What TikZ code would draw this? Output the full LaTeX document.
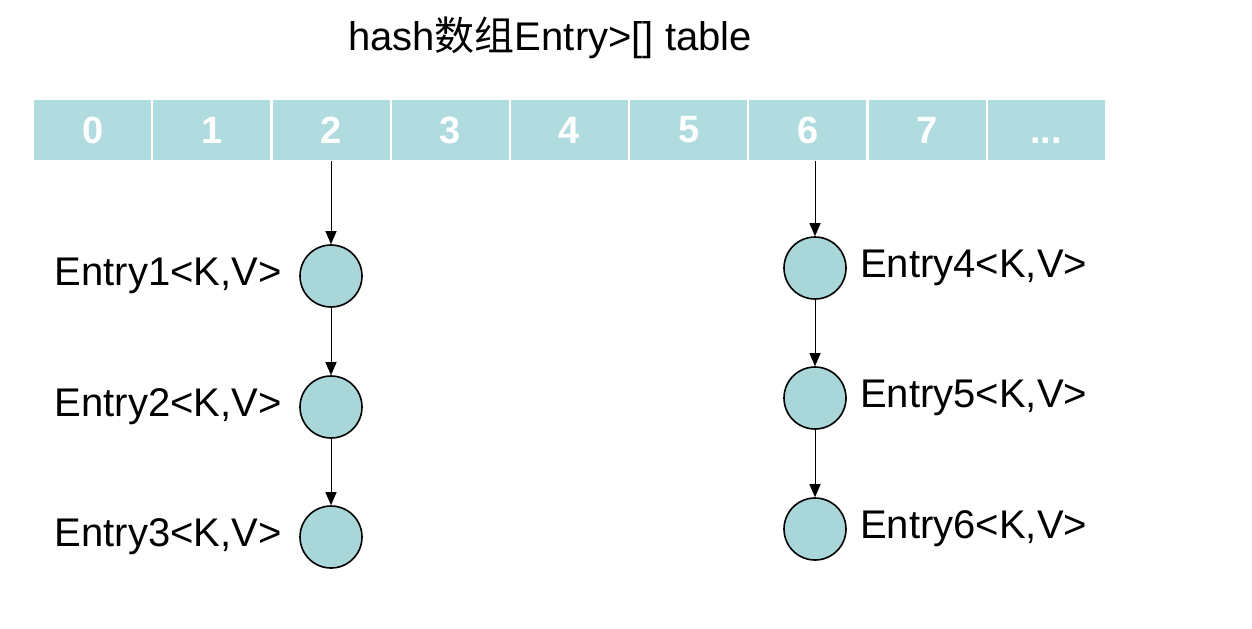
\documentclass[tikz,border=0pt]{standalone}
\usepackage{fontspec}
\setmainfont{Liberation Sans}
\newfontfamily\cjk{Noto Sans CJK SC}
\usetikzlibrary{positioning, arrows.meta}
\definecolor{cellcyan}{HTML}{B0DCDF}
\definecolor{nodecyan}{HTML}{A9D6D9}
\newcommand{\celldots}{\vphantom{0}...}

\begin{document}
\begin{tikzpicture}[x=0.5pt, y=0.5pt, >={Triangle[length=6.5pt,width=5.5pt]}, line width=0.5pt]
	\tikzstyle{cell}=[draw=none,fill=cellcyan,minimum width=58.5pt,minimum height=30pt,inner sep=0pt,text=white,font=\fontsize{19}{19}\selectfont\bfseries]
	\tikzstyle{entry}=[circle,draw=black,fill=nodecyan,line width=0.8pt,minimum size=31pt,inner sep=0pt]
	\tikzstyle{entrytext}=[inner sep=0pt,font=\fontsize{20}{20}\selectfont]

	\useasboundingbox (0,0) rectangle (1252,-628);

	\node[font=\fontsize{20}{20}\selectfont] at (550,-38) (title) {hash{\cjk 数组}Entry>[] table};

	% array cells
	\foreach \i/\t in {0/0,1/1,2/2,3/3,4/4,5/5,6/6,7/7,8/\celldots}
		\node[cell] at (92.6+119.2*\i,-130) (c\i) {\t};

	% entry nodes
	\node[entry] at (331,-276) (e1) {};
	\node[entry] at (331,-407) (e2) {};
	\node[entry] at (331,-537) (e3) {};
	\node[entry] at (815,-268) (e4) {};
	\node[entry] at (815,-398) (e5) {};
	\node[entry] at (815,-529) (e6) {};

	\node[entrytext, left=8.5pt of e1] (t1) {Entry1<K,V>};
	\node[entrytext, left=8.5pt of e2] (t2) {Entry2<K,V>};
	\node[entrytext, left=8.5pt of e3] (t3) {Entry3<K,V>};
	\node[entrytext, right=6.5pt of e4] (t4) {Entry4<K,V>};
	\node[entrytext, right=6.5pt of e5] (t5) {Entry5<K,V>};
	\node[entrytext, right=6.5pt of e6] (t6) {Entry6<K,V>};

	\coordinate (s2) at (c2.south -| e1);
	\coordinate (s6) at (c6.south -| e4);
	\path[->]
		(s2) edge (e1)
		(e1) edge (e2)
		(e2) edge (e3)
		(s6) edge (e4)
		(e4) edge (e5)
		(e5) edge (e6);
\end{tikzpicture}
\end{document}
